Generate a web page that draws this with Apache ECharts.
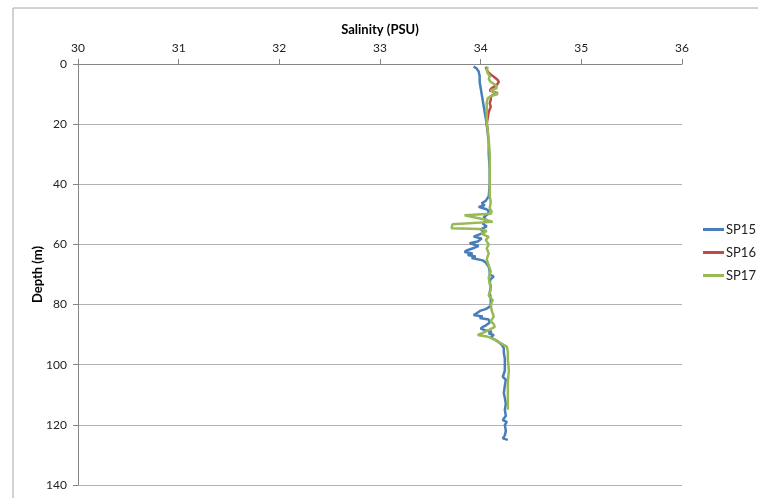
<!DOCTYPE html>
<html><head><meta charset="utf-8">
<script src="https://cdn.jsdelivr.net/npm/echarts@6/dist/echarts.min.js"></script>
<style>html,body{margin:0;padding:0;background:#fff;}#c{width:758px;height:498px;}</style>
</head><body><div id="c"></div>
<script>
var xTicks = [30, 31, 32, 33, 34, 35, 36];
var yTicks = [0, 20, 40, 60, 80, 100, 120, 140];
var seriesNames = ['SP15', 'SP16', 'SP17'];

var sp15Depth = [0.8,1.5,2.5,4,6,8,10,12,14,16,18,20,23,26,30,35,40,44,45.5,46.3,47,47.5,48.2,48.8,50,51,52,53,54,55,56,57.4,58,59,59.6,60.5,61.2,62,62.5,63,63.5,64,64.5,65.3,66,67.4,69,70,70.7,71.5,72.4,74,76,78,80,80.7,81.5,82,82.9,83.5,84,84.5,85,86,87,87.4,88,88.5,89,89.6,90.1,91,92,93.4,94.5,96,98,100,102,104,105,107,109.5,111,113,115,117,118.4,119,120,122,123.5,124.5,125];
var sp15Sal = [33.93,33.96,33.98,33.99,33.99,34.00,34.01,34.02,34.03,34.04,34.05,34.06,34.07,34.08,34.08,34.09,34.09,34.08,34.05,34.01,34.04,33.98,34.05,34.08,34.07,34.03,34.06,34.02,34.06,34.00,34.04,33.93,34.01,33.97,33.89,33.98,33.93,33.86,33.84,33.92,33.87,33.95,33.91,34.02,34.05,34.08,34.09,34.09,34.13,34.10,34.09,34.10,34.09,34.10,34.10,34.09,34.05,34.00,33.96,33.93,34.02,33.99,34.08,34.09,34.05,34.02,34.00,34.04,34.11,34.08,34.13,34.10,34.16,34.21,34.23,34.23,34.24,34.24,34.24,34.22,34.25,34.24,34.23,34.24,34.25,34.24,34.25,34.22,34.26,34.24,34.25,34.24,34.22,34.27];

var sp16Depth = [0.9,2.5,3.5,4.5,5.3,6,7,8,8.8,9.7,10.3,11,12,13,14.2,16,18,20,22];
var sp16Sal = [34.05,34.07,34.10,34.14,34.17,34.18,34.16,34.11,34.09,34.17,34.12,34.10,34.10,34.09,34.10,34.08,34.07,34.06,34.07];

var sp17Depth = [0.9,2,3,4,5,6,7,8,8.8,9.5,10,10.7,11.4,13,15,19,22,25,30,35,40,44,46,48,49,49.8,50.3,51.8,52.5,53.3,54.6,54.9,55.5,56.5,57.5,58.5,60,61.3,63,65,67,69,71,73,75,77,78.5,80,82,84,85.5,86.5,87.4,88.5,89.6,90.1,90.6,91.5,92.5,94,95.7,98,102,106,110,113,115];
var sp17Sal = [34.07,34.06,34.07,34.09,34.08,34.10,34.15,34.16,34.10,34.14,34.17,34.10,34.07,34.06,34.06,34.06,34.07,34.08,34.09,34.09,34.09,34.09,34.10,34.09,34.11,34.10,33.84,34.05,34.12,33.72,33.71,33.99,34.06,34.01,34.08,34.05,34.08,34.06,34.08,34.06,34.08,34.10,34.08,34.09,34.10,34.08,34.12,34.10,34.11,34.13,34.10,34.13,34.14,34.08,34.01,33.97,34.06,34.13,34.18,34.26,34.27,34.27,34.28,34.27,34.27,34.27,34.27];

function pairs(s, d) { return d.map(function (v, i) { return [s[i], v]; }); }

var colors = ['#4a7ebb', '#be4b48', '#98b954'];
var font = 'Lato, "Open Sans", sans-serif';
var chart = echarts.init(document.getElementById('c'), null, {renderer: 'canvas'});
chart.setOption({
  animation: false,
  color: colors,
  graphic: [{type: 'rect', shape: {x: 13, y: 8, width: 800, height: 600}, style: {fill: 'none', stroke: '#a6a6a6', lineWidth: 1}, silent: true}],
  grid: {left: 78, right: 76, top: 64, bottom: 13},
  legend: {
    orient: 'vertical', left: 703, top: 223, padding: 0, itemWidth: 21, itemHeight: 3, itemGap: 10,
    icon: 'rect',
    data: seriesNames,
    textStyle: {fontFamily: font, fontSize: 13, color: '#222', padding: [0, 0, 0, -3], overflow: 'none'}
  },
  xAxis: {
    type: 'value', position: 'top', min: xTicks[0], max: xTicks[xTicks.length - 1], interval: 1,
    name: 'Salinity (PSU)', nameLocation: 'middle', nameGap: 28,
    nameTextStyle: {fontFamily: font, fontSize: 13, fontWeight: 'bold', color: '#000'},
    axisLine: {show: true, lineStyle: {color: '#868686'}},
    axisTick: {show: true, inside: false, length: 5, lineStyle: {color: '#868686'}},
    axisLabel: {fontFamily: font, fontSize: 12, color: '#222', margin: 10},
    splitLine: {show: false}
  },
  yAxis: {
    type: 'value', inverse: true, min: yTicks[0], max: yTicks[yTicks.length - 1], interval: 20,
    name: 'Depth (m)', nameLocation: 'middle', nameGap: 34, nameRotate: 90, nameMoveOverlap: false,
    nameTextStyle: {fontFamily: font, fontSize: 13, fontWeight: 'bold', color: '#000'},
    axisLine: {show: true, lineStyle: {color: '#868686'}},
    axisTick: {show: true, length: 5, lineStyle: {color: '#868686'}},
    axisLabel: {fontFamily: font, fontSize: 12, color: '#222', margin: 11},
    splitLine: {show: true, lineStyle: {color: '#b3b3b3', width: 1}}
  },
  series: [
    {name: seriesNames[0], type: 'line', symbol: 'none', data: pairs(sp15Sal, sp15Depth), lineStyle: {width: 2.5}},
    {name: seriesNames[1], type: 'line', symbol: 'none', data: pairs(sp16Sal, sp16Depth), lineStyle: {width: 2.5}},
    {name: seriesNames[2], type: 'line', symbol: 'none', data: pairs(sp17Sal, sp17Depth), lineStyle: {width: 2.5}}
  ]
});
</script></body></html>
